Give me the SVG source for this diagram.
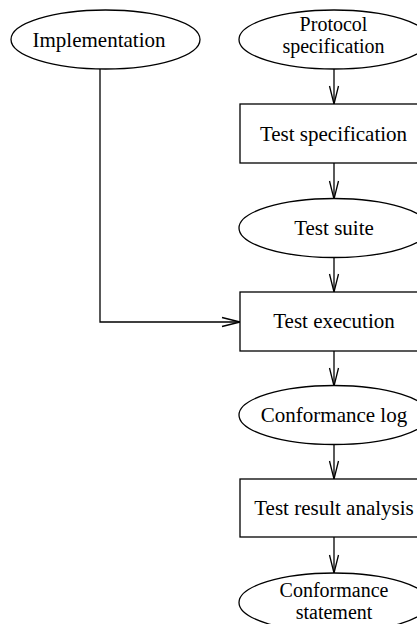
<svg xmlns="http://www.w3.org/2000/svg" width="417" height="624" viewBox="0 0 417 624">
<style>
.s{fill:#fff;stroke:#000;stroke-width:1.3}
.c{fill:none;stroke:#000;stroke-width:1.3}
text{font-family:"Liberation Serif","Times New Roman",serif;font-size:21px;fill:#000;text-anchor:middle}
text.m{font-size:20px}
</style>
<defs>
<marker id="a" markerUnits="userSpaceOnUse" markerWidth="20" markerHeight="12" refX="18" refY="5" orient="auto" overflow="visible">
<path d="M0,0.5 L18,5 L0,9.5" fill="none" stroke="#000" stroke-width="1.3"/>
</marker>
</defs>
<g id="connectors">
<line class="c" x1="334" y1="69" x2="334" y2="104" marker-end="url(#a)"/>
<line class="c" x1="334" y1="163" x2="334" y2="199" marker-end="url(#a)"/>
<line class="c" x1="334" y1="257.5" x2="334" y2="292" marker-end="url(#a)"/>
<line class="c" x1="334" y1="351" x2="334" y2="386" marker-end="url(#a)"/>
<line class="c" x1="334" y1="444.5" x2="334" y2="479" marker-end="url(#a)"/>
<line class="c" x1="334" y1="537" x2="334" y2="573" marker-end="url(#a)"/>
<polyline class="c" points="100,69 100,322 240,322" marker-end="url(#a)"/>
</g>
<g id="implementation">
<ellipse class="s" cx="105.5" cy="39.5" rx="94.5" ry="29.5"/>
<text x="99" y="47">Implementation</text>
</g>
<g id="protocol-specification">
<ellipse class="s" cx="334" cy="39.5" rx="95" ry="29.5"/>
<text class="m" x="333.5" y="31">Protocol</text>
<text class="m" x="333.5" y="53.3">specification</text>
</g>
<g id="test-specification">
<rect class="s" x="240" y="104" width="188" height="59"/>
<text x="333.5" y="141">Test specification</text>
</g>
<g id="test-suite">
<ellipse class="s" cx="334" cy="228" rx="95" ry="29.5"/>
<text x="334" y="235">Test suite</text>
</g>
<g id="test-execution">
<rect class="s" x="240" y="292" width="188" height="59"/>
<text x="334" y="328">Test execution</text>
</g>
<g id="conformance-log">
<ellipse class="s" cx="334" cy="415" rx="95" ry="29.5"/>
<text x="334" y="422">Conformance log</text>
</g>
<g id="test-result-analysis">
<rect class="s" x="240" y="479" width="188" height="58"/>
<text x="334" y="515">Test result analysis</text>
</g>
<g id="conformance-statement">
<ellipse class="s" cx="334" cy="602.5" rx="95" ry="29.5"/>
<text class="m" x="334" y="597">Conformance</text>
<text class="m" x="334" y="619.3">statement</text>
</g>
</svg>
